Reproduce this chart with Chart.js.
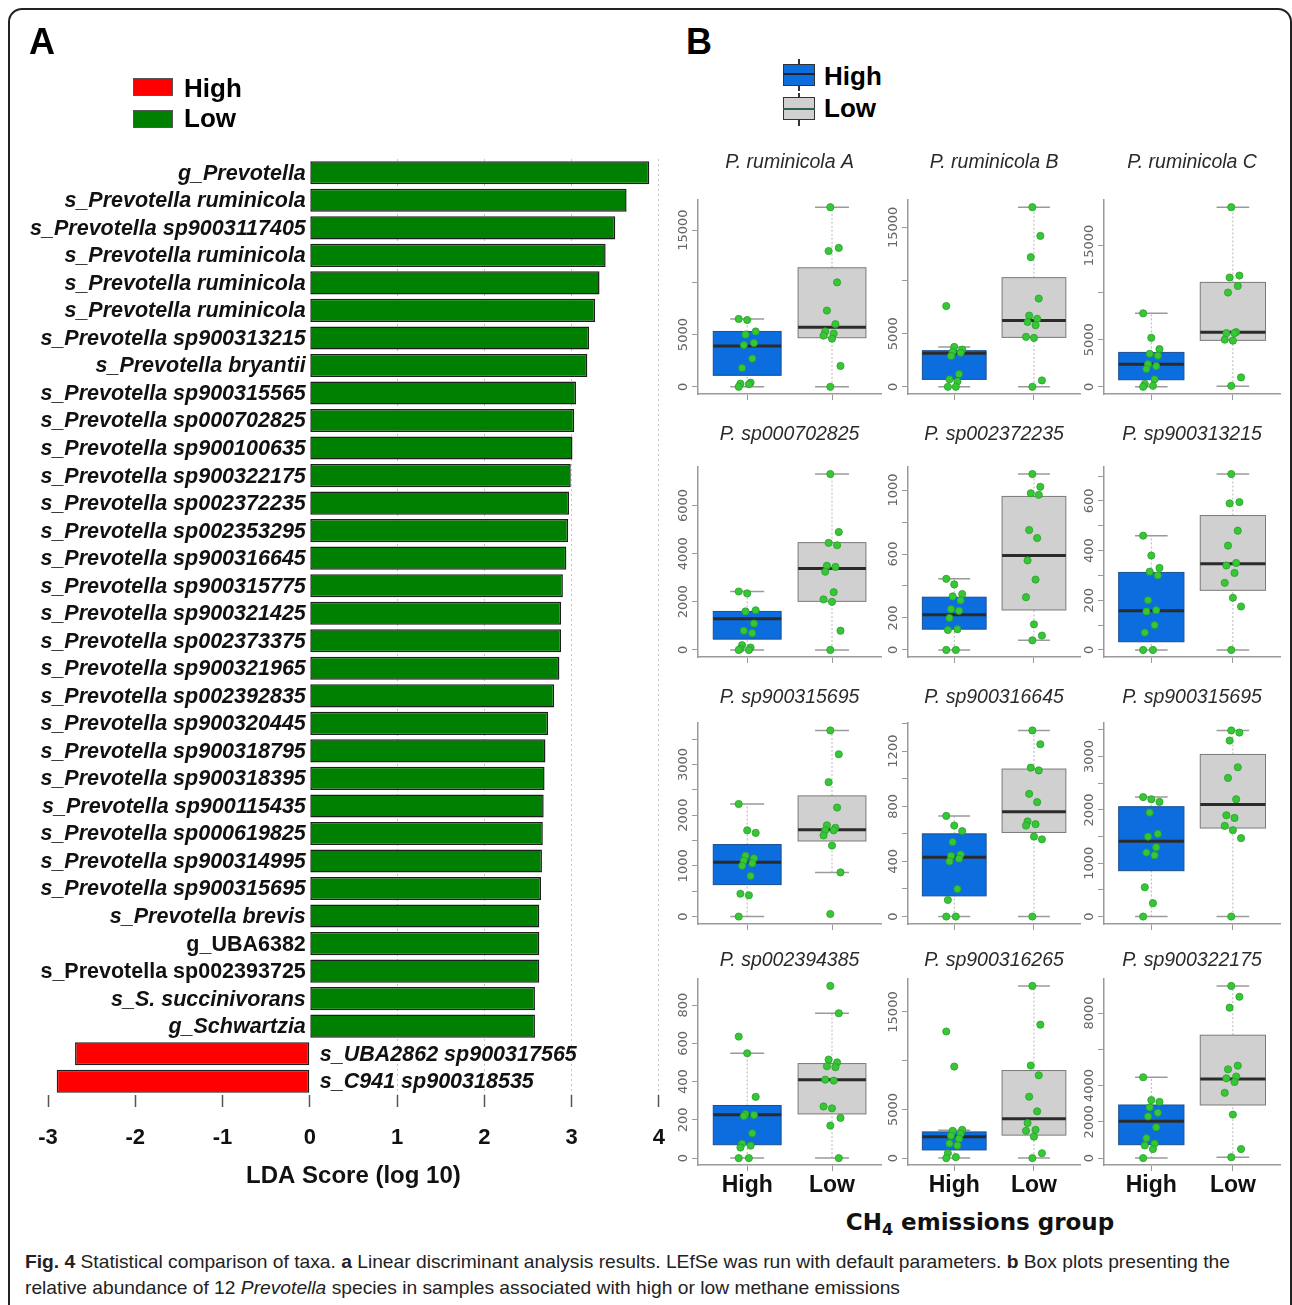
<!DOCTYPE html>
<html>
<head>
<meta charset="utf-8">
<script src="https://cdn.jsdelivr.net/npm/chart.js@4.4.1/dist/chart.umd.min.js"></script>
<style>
  body { margin: 0; background: #fff; font-family: 'Liberation Sans', Arial, sans-serif; }
  #page { position: relative; width: 1292px; height: 1305px; overflow: hidden; background: #fff; }
  canvas { position: absolute; }
  .frame { position: absolute; left: 8px; top: 8px; width: 1280px; height: 1340px; border: 2px solid #222; border-radius: 14px; }
  .letter { position: absolute; font: bold 36px 'Liberation Sans', Arial, sans-serif; color: #000; line-height: 40px; }
  .legtxt { position: absolute; font: bold 26px 'Liberation Sans', Arial, sans-serif; color: #000; line-height: 30px; }
  .sw { position: absolute; width: 38px; height: 16px; border: 1px solid #555; }
  .bxg { position: absolute; width: 32px; }
  .bxg .st { position: absolute; left: 15px; width: 2px; background: #333; }
  .bxg .bx { position: absolute; left: 0; width: 30px; border: 1px solid #333; }
  .bxg .md { position: absolute; left: 0; width: 32px; height: 2px; background: #222; }
  .caption { position: absolute; left: 25px; white-space: nowrap; font: 19px 'Liberation Sans Narrow', 'Liberation Sans', Arial, sans-serif; color: #222; line-height: 24px; transform-origin: left center; }
  .xtitle { position: absolute; left: 760px; width: 440px; top: 1207px; text-align: center; font: bold 23px 'DejaVu Sans', sans-serif; color: #111; line-height: 30px; }
</style>
</head>
<body>
<div id="page">
  <div class="frame"></div>
  <canvas id="lda" width="683" height="1211" style="left:0;top:0"></canvas>
  <div id="boxes"></div>

  <div class="letter" style="left:29px;top:22px">A</div>
  <div class="letter" style="left:686px;top:22px">B</div>

  <div class="sw" style="left:133px;top:78px;background:#ff0000"></div>
  <div class="legtxt" style="left:184px;top:73px">High</div>
  <div class="sw" style="left:133px;top:110px;background:#008000"></div>
  <div class="legtxt" style="left:184px;top:103px">Low</div>

  <div class="bxg" style="left:783px;top:59px;height:32px">
    <div class="st" style="top:0;height:32px"></div>
    <div class="bx" style="top:5px;height:20px;background:#0c6ddf"></div>
    <div class="md" style="top:14px"></div>
  </div>
  <div class="legtxt" style="left:824px;top:61px">High</div>
  <div class="bxg" style="left:783px;top:93px;height:33px">
    <div class="st" style="top:0;height:33px"></div>
    <div class="bx" style="top:4px;height:21px;background:#d0d0d0"></div>
    <div class="md" style="top:15px;background:#2f5f55"></div>
  </div>
  <div class="legtxt" style="left:824px;top:93px">Low</div>

  <div class="xtitle">CH<sub style="font-size:16px;vertical-align:-5px">4</sub> emissions group</div>

  <div class="caption" id="cap1" style="top:1250px"><b>Fig. 4</b> Statistical comparison of taxa. <b>a</b> Linear discriminant analysis results. LEfSe was run with default parameters. <b>b</b> Box plots presenting the</div>
  <div class="caption" id="cap2" style="top:1276px">relative abundance of 12 <i>Prevotella</i> species in samples associated with high or low methane emissions</div>
</div>

<script>
// ---- panel A: LDA scores ----
const ldaTaxa = [
  'g_Prevotella', 's_Prevotella ruminicola', 's_Prevotella sp9003117405', 's_Prevotella ruminicola',
  's_Prevotella ruminicola', 's_Prevotella ruminicola', 's_Prevotella sp900313215', 's_Prevotella bryantii',
  's_Prevotella sp900315565', 's_Prevotella sp000702825', 's_Prevotella sp900100635', 's_Prevotella sp900322175',
  's_Prevotella sp002372235', 's_Prevotella sp002353295', 's_Prevotella sp900316645', 's_Prevotella sp900315775',
  's_Prevotella sp900321425', 's_Prevotella sp002373375', 's_Prevotella sp900321965', 's_Prevotella sp002392835',
  's_Prevotella sp900320445', 's_Prevotella sp900318795', 's_Prevotella sp900318395', 's_Prevotella sp900115435',
  's_Prevotella sp000619825', 's_Prevotella sp900314995', 's_Prevotella sp900315695', 's_Prevotella brevis',
  'g_UBA6382', 's_Prevotella sp002393725', 's_S. succinivorans', 'g_Schwartzia',
  's_UBA2862 sp900317565', 's_C941 sp900318535'
];
const ldaScores = [
  3.89, 3.63, 3.50, 3.39, 3.32, 3.27, 3.20, 3.18, 3.05, 3.03, 3.01, 2.99,
  2.97, 2.96, 2.94, 2.90, 2.88, 2.88, 2.86, 2.80, 2.73, 2.70, 2.69, 2.68,
  2.67, 2.66, 2.65, 2.63, 2.63, 2.63, 2.58, 2.58, -2.69, -2.90
];
const ldaTicks = [-3, -2, -1, 0, 1, 2, 3, 4];
const uprightTaxa = ['g_UBA6382', 's_Prevotella sp002393725'];

// ---- panel B: box plots ----
const groupNames = ['High', 'Low'];
const panelTitles = [
  'P. ruminicola A', 'P. ruminicola B', 'P. ruminicola C',
  'P. sp000702825', 'P. sp002372235', 'P. sp900313215',
  'P. sp900315695', 'P. sp900316645', 'P. sp900315695',
  'P. sp002394385', 'P. sp900316265', 'P. sp900322175'
];
// [lower whisker, Q1, median, Q3, upper whisker]
const highStats = [
  [0, 1100, 3900, 5300, 6500], [0, 700, 3150, 3400, 3750], [0, 750, 2400, 3650, 7800],
  [0, 450, 1300, 1600, 2430], [0, 130, 220, 330, 445], [0, 33, 158, 312, 460],
  [0, 630, 1070, 1420, 2220], [0, 150, 430, 600, 730], [0, 860, 1410, 2060, 2240],
  [0, 70, 226, 275, 548], [0, 840, 2190, 2690, 2860], [0, 740, 2040, 2930, 4460]
];
const lowStats = [
  [0, 4700, 5700, 11400, 17200], [0, 4650, 6250, 10270, 16900], [70, 4930, 5800, 11080, 19060],
  [0, 2020, 3380, 4460, 7310], [60, 250, 590, 960, 1100], [0, 240, 347, 541, 708],
  [870, 1490, 1710, 2380, 3670], [0, 610, 760, 1070, 1350], [0, 1660, 2100, 3040, 3490],
  [0, 231, 409, 494, 757], [0, 2360, 4040, 8990, 17680], [50, 2930, 4370, 6780, 9500]
];
const highPoints = [
  [6500, 6400, 5300, 5000, 4200, 4000, 2700, 1800, 400, 300, 250, 0],
  [7600, 3750, 3500, 3300, 3200, 2900, 1200, 700, 500, 0, 0],
  [7800, 5200, 4000, 3500, 3300, 2400, 2200, 1900, 800, 300, 100, 0],
  [2430, 2350, 1650, 1600, 1100, 800, 700, 200, 100, 50, 0, 0],
  [445, 410, 350, 335, 310, 255, 245, 200, 130, 125, 0, 0],
  [460, 380, 330, 315, 300, 200, 160, 155, 100, 70, 0, 0],
  [2220, 1700, 1650, 1200, 1150, 1100, 1050, 1000, 800, 450, 420, 0],
  [730, 660, 620, 540, 450, 440, 420, 400, 200, 120, 0, 0],
  [2240, 2200, 2150, 1950, 1550, 1500, 1300, 1200, 1150, 550, 250, 0],
  [635, 548, 320, 230, 225, 220, 130, 75, 65, 55, 0, 0],
  [13000, 9400, 2900, 2800, 2500, 2300, 2000, 1500, 1300, 500, 100, 0],
  [4460, 3200, 3100, 2800, 2500, 2300, 1700, 1100, 800, 700, 500, 0]
];
const lowPoints = [
  [17200, 13300, 13000, 10000, 7300, 6000, 5300, 5100, 4900, 4600, 2000, 0],
  [16900, 14200, 12200, 8300, 6700, 6400, 6100, 5800, 4700, 4600, 600, 0],
  [19060, 11800, 11600, 10700, 10000, 5800, 5700, 5700, 5000, 4900, 1000, 100],
  [7310, 4900, 4450, 4350, 3500, 3450, 3250, 2400, 2100, 2000, 800, 0],
  [1100, 1020, 980, 970, 750, 700, 560, 440, 330, 160, 90, 60],
  [708, 595, 590, 480, 420, 350, 340, 310, 270, 210, 175, 0],
  [3670, 3200, 2650, 2150, 1800, 1750, 1700, 1700, 1600, 1400, 870, 50],
  [1350, 1250, 1080, 1060, 890, 830, 690, 670, 660, 580, 560, 0],
  [3490, 3450, 3300, 2800, 2600, 2200, 1900, 1850, 1700, 1620, 1470, 0],
  [900, 757, 515, 500, 480, 475, 410, 405, 270, 260, 210, 170, 0],
  [17680, 13700, 9500, 8500, 6300, 4800, 3600, 2900, 2800, 2200, 500, 0],
  [9500, 8900, 8300, 5100, 4900, 4500, 4400, 4200, 3600, 2400, 500, 50]
];
const yTickValues = [
  [0, 5000, 10000, 15000], [0, 5000, 10000, 15000], [0, 5000, 10000, 15000],
  [0, 2000, 4000, 6000], [0, 200, 400, 600, 800, 1000], [0, 100, 200, 300, 400, 500, 600, 700],
  [0, 500, 1000, 1500, 2000, 2500, 3000, 3500], [0, 200, 400, 600, 800, 1000, 1200, 1400], [0, 500, 1000, 1500, 2000, 2500, 3000, 3500],
  [0, 200, 400, 600, 800], [0, 5000, 10000, 15000], [0, 2000, 4000, 6000, 8000]
];
const yTickLabels = [
  ['0', '5000', '', '15000'], ['0', '5000', '', '15000'], ['0', '5000', '', '15000'],
  ['0', '2000', '4000', '6000'], ['0', '200', '', '600', '', '1000'], ['0', '', '200', '', '400', '', '600', ''],
  ['0', '', '1000', '', '2000', '', '3000', ''], ['0', '', '400', '', '800', '', '1200', ''], ['0', '', '1000', '', '2000', '', '3000', ''],
  ['0', '200', '400', '600', '800'], ['0', '5000', '', '15000'], ['0', '2000', '4000', '', '8000']
];

Chart.defaults.font.family = "'Liberation Sans', Arial, sans-serif";
Chart.defaults.animation = false;

// taxon names next to the bars
const ldaLabelPlugin = {
  id: 'ldaLabels',
  afterDatasetsDraw(chart) {
    const ctx = chart.ctx;
    const xs = chart.scales.x, ys = chart.scales.y;
    const x0 = xs.getPixelForValue(0);
    ctx.save();
    ctx.fillStyle = '#111';
    ctx.textBaseline = 'middle';
    ldaTaxa.forEach((name, i) => {
      const y = ys.getPixelForValue(i);
      const style = uprightTaxa.includes(name) ? 'bold' : 'italic bold';
      ctx.font = style + " 21.5px 'Liberation Sans', Arial, sans-serif";
      if (ldaScores[i] >= 0) {
        ctx.textAlign = 'right';
        ctx.fillText(name, x0 - 4, y + 1);
      } else {
        ctx.textAlign = 'left';
        ctx.fillText(name, x0 + 10, y + 1);
      }
    });
    ctx.restore();
  }
};

new Chart(document.getElementById('lda'), {
  type: 'bar',
  data: {
    labels: ldaTaxa,
    datasets: [{
      data: ldaScores,
      backgroundColor: c => (c.raw < 0 ? '#ff0000' : '#008000'),
      borderColor: '#1e1e1e',
      borderWidth: 1.5,
      borderSkipped: false,
      barPercentage: 0.84,
      categoryPercentage: 1
    }]
  },
  options: {
    indexAxis: 'y',
    responsive: false,
    layout: { padding: { left: 48, right: 0, top: 159, bottom: 16 } },
    plugins: { legend: { display: false }, tooltip: { enabled: false } },
    scales: {
      x: {
        min: -3, max: 4,
        afterBuildTicks: s => { s.ticks = ldaTicks.map(v => ({ value: v })); },
        afterFit: s => { s.height = 100; },
        grid: {
          color: c => (c.tick && c.tick.value > 0 ? '#c4c4c4' : 'rgba(0,0,0,0)'),
          tickColor: '#555',
          tickLength: 12,
          tickWidth: 1.5
        },
        border: { display: false, dash: [2, 3] },
        ticks: { padding: 18, color: '#111', font: { size: 22, weight: 'bold' } },
        title: {
          display: true, text: 'LDA Score (log 10)', color: '#111',
          font: { size: 24, weight: 'bold' }, padding: { top: 12, bottom: 4 }
        }
      },
      y: { display: false }
    }
  },
  plugins: [ldaLabelPlugin]
});

// ---- box plot cells ----
const cols = [{ l: 698, r: 882 }, { l: 908, r: 1081 }, { l: 1104, r: 1281 }];
const rows = [
  { t: 200, b: 394, ty: 163 }, { t: 467, b: 657, ty: 435 },
  { t: 723, b: 924, ty: 698 }, { t: 979, b: 1165, ty: 961 }
];
const boxFill = ['#0c6ddf', '#d0d0d0'];
const boxEdge = ['#1d4f8f', '#7a7a7a'];
const jitter = i => ((i * 5) % 11 - 5) * 0.02;

function boxPlugin(stats, tickVals, tickLabels) {
  return {
    id: 'boxes',
    beforeDatasetsDraw(chart) {
      const ctx = chart.ctx, xs = chart.scales.x, ys = chart.scales.y;
      stats.forEach((s, g) => {
        const xc = xs.getPixelForValue(g + 1);
        const hw = xs.getPixelForValue(g + 1.4) - xc;
        const sw = xs.getPixelForValue(g + 1.2) - xc;
        const [lo, q1, med, q3, hi] = s.map(v => ys.getPixelForValue(v));
        ctx.save();
        ctx.strokeStyle = '#b5b5b5';
        ctx.lineWidth = 1;
        ctx.setLineDash([2, 2]);
        ctx.beginPath();
        ctx.moveTo(xc, lo); ctx.lineTo(xc, q1);
        ctx.moveTo(xc, q3); ctx.lineTo(xc, hi);
        ctx.stroke();
        ctx.setLineDash([]);
        ctx.strokeStyle = '#9a9a9a';
        ctx.lineWidth = 1.5;
        ctx.beginPath();
        ctx.moveTo(xc - sw, lo); ctx.lineTo(xc + sw, lo);
        ctx.moveTo(xc - sw, hi); ctx.lineTo(xc + sw, hi);
        ctx.stroke();
        ctx.fillStyle = boxFill[g];
        ctx.fillRect(xc - hw, q3, 2 * hw, q1 - q3);
        ctx.strokeStyle = boxEdge[g];
        ctx.lineWidth = 1;
        ctx.strokeRect(xc - hw, q3, 2 * hw, q1 - q3);
        ctx.strokeStyle = '#2b2b2b';
        ctx.lineWidth = 3;
        ctx.beginPath();
        ctx.moveTo(xc - hw, med); ctx.lineTo(xc + hw, med);
        ctx.stroke();
        ctx.restore();
      });
    },
    afterDraw(chart) {
      // rotated y tick labels, R style
      const ctx = chart.ctx, ys = chart.scales.y;
      ctx.save();
      ctx.fillStyle = '#666';
      ctx.font = "13px 'DejaVu Sans', sans-serif";
      ctx.textAlign = 'center';
      ctx.textBaseline = 'middle';
      tickVals.forEach((v, k) => {
        if (!tickLabels[k]) return;
        ctx.save();
        ctx.translate(chart.chartArea.left - 14, ys.getPixelForValue(v));
        ctx.rotate(-Math.PI / 2);
        ctx.fillText(tickLabels[k], 0, 0);
        ctx.restore();
      });
      ctx.restore();
    }
  };
}

const holder = document.getElementById('boxes');
panelTitles.forEach((title, i) => {
  const r = Math.floor(i / 3), c = i % 3;
  const col = cols[c], row = rows[r];
  const bottomRow = r === 3;
  const YW = 40, XH = bottomRow ? 42 : 10;
  const left = col.l - YW, top = row.ty - 12;
  const w = col.r - left + 4, h = row.b - top + XH;
  const cv = document.createElement('canvas');
  cv.width = w; cv.height = h;
  cv.style.left = left + 'px'; cv.style.top = top + 'px';
  holder.appendChild(cv);

  const all = highPoints[i].concat(lowPoints[i], highStats[i], lowStats[i]);
  const lo = Math.min(...all), hi = Math.max(...all);
  const pad = (hi - lo) * 0.04;

  new Chart(cv, {
    type: 'scatter',
    data: {
      datasets: [highPoints[i], lowPoints[i]].map((pts, g) => ({
        data: pts.map((v, k) => ({ x: g + 1 + jitter(k + g * 3), y: v })),
        pointRadius: 3.6,
        pointBackgroundColor: '#36c736',
        pointBorderColor: '#2a9e2a',
        pointBorderWidth: 0.8
      }))
    },
    options: {
      responsive: false,
      layout: { padding: { left: 0, right: 4, top: 0, bottom: 0 } },
      plugins: {
        legend: { display: false },
        tooltip: { enabled: false },
        title: {
          display: true, text: title, fullSize: false, color: '#2a2a2a',
          font: { size: 19.5, style: 'italic', weight: 'normal' },
          padding: { top: 0.3, bottom: row.t - top - 23.4 - 0.3 }
        }
      },
      scales: {
        x: {
          type: 'linear', min: 0.42, max: 2.58,
          afterBuildTicks: s => { s.ticks = groupNames.map((n, k) => ({ value: k + 1 })); },
          afterFit: s => { s.height = XH; },
          grid: { drawOnChartArea: false, tickLength: 6, color: '#9a9a9a' },
          border: { display: true, color: '#9a9a9a', width: 1.5 },
          ticks: {
            display: bottomRow, padding: 1, color: '#111',
            font: { size: 23, weight: 'bold' },
            callback: v => groupNames[Math.round(v) - 1]
          }
        },
        y: {
          min: lo - pad, max: hi + pad,
          afterBuildTicks: s => { s.ticks = yTickValues[i].map(v => ({ value: v })); },
          afterFit: s => { s.width = YW; },
          grid: { drawOnChartArea: false, tickLength: 6, color: '#9a9a9a' },
          border: { display: true, color: '#9a9a9a', width: 1.5 },
          ticks: { display: false }
        }
      }
    },
    plugins: [boxPlugin([highStats[i], lowStats[i]], yTickValues[i], yTickLabels[i])]
  });
});

// squeeze the caption to the reference line width
const cap1 = document.getElementById('cap1'), cap2 = document.getElementById('cap2');
const k = 1205 / cap1.getBoundingClientRect().width;
[cap1, cap2].forEach(el => { el.style.transform = 'scaleX(' + k + ')'; });
</script>
</body>
</html>
